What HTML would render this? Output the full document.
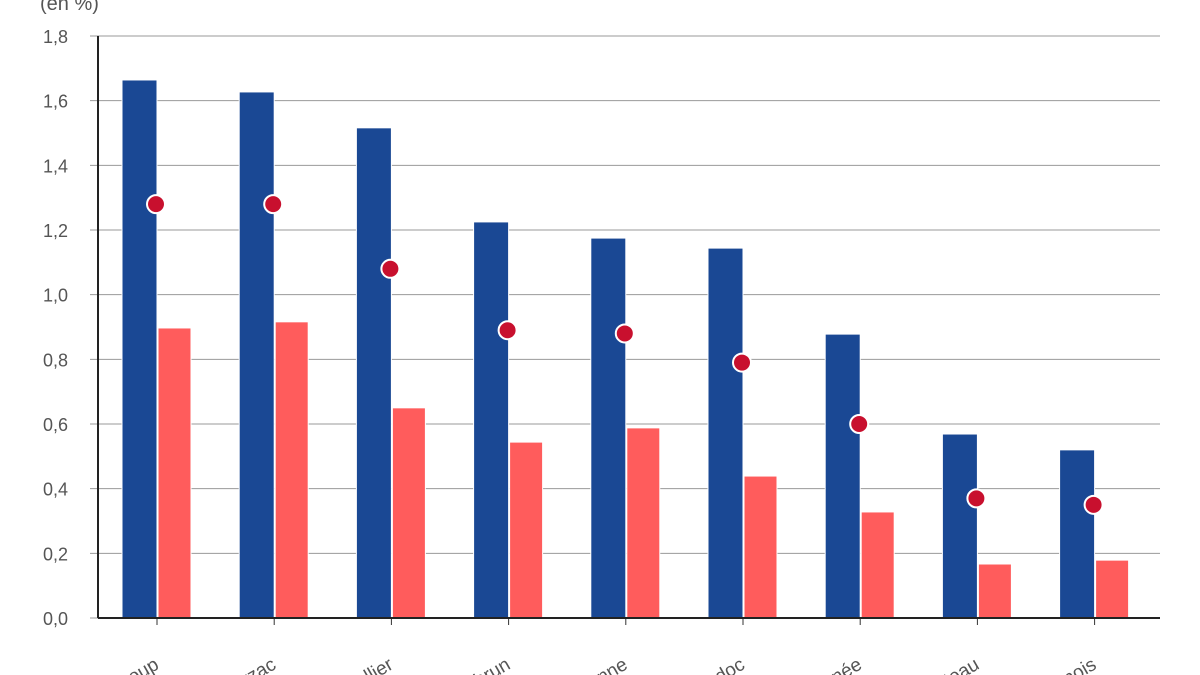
<!DOCTYPE html>
<html><head><meta charset="utf-8"><style>
html,body{margin:0;padding:0;background:#fff;overflow:hidden;width:1200px;height:675px}
svg{display:block;font-family:"Liberation Sans",sans-serif;overflow:hidden}
</style></head><body>
<svg id="chart" width="1200" height="675" viewBox="0 0 1200 675"></svg>
<script>
const categories=["Pic Saint-Loup","Terrasses du Larzac","Grès de Montpellier","Saint-Chinian Roquebrun","Faugères Cévenne","Coteaux du Languedoc","Roussillon Méditerranée","Pays d'Oc Plateau","Minervois Cabardès Corbières Fitou Malepère Limoux Narbonnois"];
const blueValues=[1.664,1.627,1.516,1.225,1.175,1.144,0.878,0.569,0.52];
const pinkValues=[0.897,0.916,0.65,0.544,0.588,0.439,0.328,0.167,0.179];
const dotValues=[1.28,1.28,1.08,0.89,0.88,0.79,0.60,0.37,0.35];
const yTicks=[0,0.2,0.4,0.6,0.8,1.0,1.2,1.4,1.6,1.8];
const yTickLabels=["0,0","0,2","0,4","0,6","0,8","1,0","1,2","1,4","1,6","1,8"];

const svg=document.getElementById('chart');
const NS='http://www.w3.org/2000/svg';
const x0=98,x1=1160,yTop=36,yBot=618,yMax=1.8;
const band=117.2;
const y=v=>yBot-v/yMax*(yBot-yTop);
const cx=i=>x0+59+band*i;
function mk(tag,attrs,parent){const e=document.createElementNS(NS,tag);for(const k in attrs)e.setAttribute(k,attrs[k]);(parent||svg).appendChild(e);return e;}

const t=mk('text',{x:40,y:10,'font-size':20,fill:'#555'});t.textContent='(en %)';



yTicks.forEach((v,i)=>{
  const l=mk('line',{x1:90,x2:x1,y1:y(v),y2:y(v),stroke:'#999','stroke-width':1});
  
  
  const tx=mk('text',{x:68,y:y(v)+7,'text-anchor':'end','font-size':18,fill:'#555'});
  tx.textContent=yTickLabels[i];
  
  
});

categories.forEach((c,i)=>{
  const c0=cx(i);
  const b=mk('rect',{x:c0-35,y:y(blueValues[i]),width:35,height:yBot-y(blueValues[i]),fill:'#1a4894',stroke:'#fff','stroke-width':1});
  
  
  const p=mk('rect',{x:c0+1,y:y(pinkValues[i]),width:33,height:yBot-y(pinkValues[i]),fill:'#ff5c5c',stroke:'#fff','stroke-width':1});
  
  
  const tk=mk('line',{x1:c0,x2:c0,y1:yBot,y2:yBot+7,stroke:'#333','stroke-width':1});
  
  
  const lb=mk('text',{x:c0+3,y:668,'text-anchor':'end','font-size':19,fill:'#555',transform:`rotate(-30 ${c0+3} 668)`});
  lb.textContent=c;
  
  
});
categories.forEach((c,i)=>{
  const d=mk('circle',{cx:cx(i)-1,cy:y(dotValues[i]),r:9,fill:'#c8102e',stroke:'#fff','stroke-width':2});
  
  
});
const ax=mk('line',{x1:x0,x2:x0,y1:yTop,y2:yBot,stroke:'#222','stroke-width':2});


const bx=mk('line',{x1:x0,x2:x1,y1:yBot,y2:yBot,stroke:'#222','stroke-width':2});


</script>
</body></html>
